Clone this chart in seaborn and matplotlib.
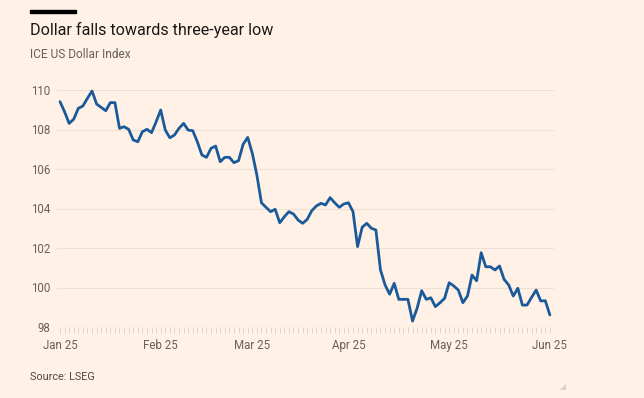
import matplotlib
matplotlib.use("Agg")
import matplotlib.pyplot as plt
import matplotlib.patches as mpatches
import numpy as np
import pandas as pd
import seaborn as sns

# ICE US Dollar Index, daily closes (trading days Jan 2 - Jun 2 2025)
jan = [109.41, 108.90, 108.31, 108.52, 109.07, 109.19, 109.58, 109.95, 109.29, 109.12,
       108.95, 109.36, 109.36, 108.06, 108.14, 108.01, 107.47, 107.38, 107.89, 108.01,
       107.84, 108.39]
feb = [108.99, 107.97, 107.58, 107.72, 108.06, 108.31, 107.97, 107.94, 107.38, 106.71,
       106.59, 107.05, 107.16, 106.37, 106.59, 106.59, 106.32, 106.42, 107.25, 107.60]
mar = [106.80, 105.70, 104.29, 104.06, 103.84, 103.96, 103.28, 103.58, 103.84, 103.72,
       103.42, 103.25, 103.45, 103.89, 104.13, 104.26, 104.18, 104.55, 104.29, 104.06,
       104.23]
apr = [104.29, 103.84, 102.07, 103.05, 103.25, 103.00, 102.91, 100.89, 100.13, 99.66,
       100.21, 99.40, 99.40, 99.40, 98.30, 98.95, 99.84, 99.40, 99.48, 99.03,
       99.23, 99.45]
may = [100.24, 100.08, 99.87, 99.23, 99.57, 100.63, 100.34, 101.76, 101.05, 101.05,
       100.89, 101.09, 100.41, 100.13, 99.57, 99.96, 99.11, 99.11, 99.50, 99.87,
       99.32, 99.33]
jun = [98.61]

dates = pd.bdate_range("2025-01-02", "2025-06-02")
values = jan + feb + mar + apr + may + jun
df = pd.DataFrame({"date": dates, "dxy": values})
df["idx"] = np.arange(len(df))

y_ticks = [98, 100, 102, 104, 106, 108, 110]

BG = "#FFF1E5"
GREY = "#66605C"
GRID = "#EDE1D6"

sns.set_theme(style="white")
plt.rcParams["font.family"] = ["Roboto", "DejaVu Sans"]

fig = plt.figure(figsize=(6.44, 3.98), dpi=100)
fig.patch.set_facecolor(BG)
ax = fig.add_axes([57 / 644, 71 / 398, 497 / 644, 237 / 398])
ax.set_facecolor(BG)

sns.lineplot(data=df, x="idx", y="dxy", ax=ax, color="#1B5A9A", linewidth=2.0,
             clip_on=False)

# x axis: one tick per trading day, labels at the first trading day of each month
month_first = df.groupby(df["date"].dt.to_period("M"))["idx"].min()
ax.set_xlim(-0.65, 107.9)
ax.set_xticks(month_first.values)
ax.set_xticklabels([p.strftime("%b %y") for p in month_first.index])
ax.set_xticks(df["idx"].values, minor=True)
ax.tick_params(axis="x", which="both", length=4.5, width=0.6, color="#DCCFC3",
               labelsize=8.3, labelcolor=GREY, pad=4, bottom=True)

ax.set_ylim(98, 110)
ax.set_yticks(y_ticks)
ax.tick_params(axis="y", length=0, labelsize=8.3, labelcolor=GREY, pad=5)
ax.yaxis.grid(True, color=GRID, linewidth=0.8)
ax.set_axisbelow(True)
for s in ax.spines.values():
    s.set_visible(False)
ax.set_xlabel("")
ax.set_ylabel("")

# header
fig.add_artist(mpatches.Rectangle((30 / 644, 1 - 12.5 / 398), 46 / 644, 3 / 398,
                                  transform=fig.transFigure, color="black"))
fig.text(30 / 644, 1 - 35 / 398, "Dollar falls towards three-year low",
         fontsize=11.6, color="#1A1817", va="baseline")
fig.text(30 / 644, 1 - 58 / 398, "ICE US Dollar Index",
         fontsize=8.6, color=GREY, va="baseline")
fig.text(30 / 644, 1 - 380 / 398, "Source: LSEG",
         fontsize=7.8, color="#4D4845", va="baseline")

# little corner mark bottom right
fig.add_artist(mpatches.Polygon([[566 / 644, 1 - 384 / 398], [566 / 644, 1 - 390 / 398],
                                 [560 / 644, 1 - 390 / 398]], closed=True,
                                transform=fig.transFigure, color="#D9D0C8", lw=0))

fig.savefig("out.png", dpi=100, facecolor=BG)
